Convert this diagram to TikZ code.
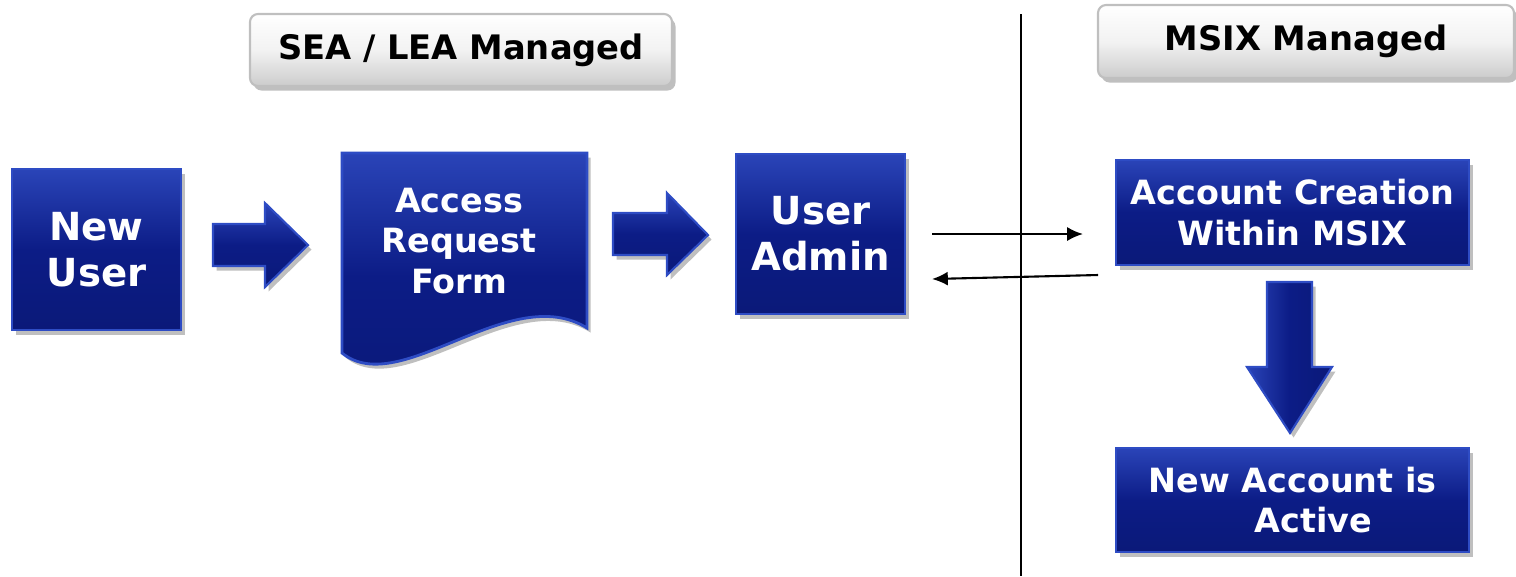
\documentclass[tikz,border=0pt]{standalone}
\usepackage{fontspec}
\setmainfont{DejaVu Sans}
\usetikzlibrary{shadows,arrows.meta,calc}
\definecolor{navy}{HTML}{0C1C86}
\definecolor{navylight}{HTML}{2A44B8}
\definecolor{bevel}{HTML}{2E4CC4}
\begin{document}
\begin{tikzpicture}[x=1cm,y=-1cm,
  shad/.style={drop shadow={shadow xshift=0.035cm,shadow yshift=-0.045cm,opacity=0.25,fill=black}},
  bluebox/.style={draw=bevel,line width=0.8pt,top color=navylight,bottom color=navy!90!black,middle color=navy,
     shad,inner sep=0pt,align=center,text=white},
  small/.style={font=\bfseries\fontsize{9.5}{11.4}\selectfont},
  big/.style={font=\bfseries\fontsize{11}{13}\selectfont},
  header/.style={draw=gray!50,line width=0.6pt,rounded corners=0.08cm,top color=white,bottom color=gray!40,
     middle color=gray!10,shad,inner sep=0pt,font=\bfseries\fontsize{9.6}{11.5}\selectfont,text=black},
  blockarrow/.style={draw=bevel,line width=0.6pt,top color=navylight,bottom color=navy!90!black,middle color=navy,shad},
  thin/.style={line width=0.6pt,-{Latex[length=4.5pt,width=4pt]}}]
\useasboundingbox (0,0) rectangle (15.16,5.76);
% headers
\node[header,minimum width=4.22cm,minimum height=0.72cm] (h1) at (4.61,0.50) {SEA / LEA Managed};
\node[header,minimum width=4.16cm,minimum height=0.73cm] (h2) at (13.06,0.415) {MSIX Managed};
% divider
\draw[line width=0.6pt] (10.21,0.14) -- (10.21,5.76);
% boxes
\node[bluebox,big,minimum width=1.69cm,minimum height=1.61cm] (nu) at (0.965,2.495) {New\\User};
\node[bluebox,big,minimum width=1.69cm,minimum height=1.60cm] (ua) at (8.205,2.34) {User\\Admin};
\node[bluebox,small,minimum width=3.53cm,minimum height=1.05cm] (ac) at (12.925,2.125) {Account Creation\\Within MSIX};
\node[bluebox,small,minimum width=3.53cm,minimum height=1.04cm] (na) at (12.925,5.00) {New Account is\\\hspace*{0.42cm}Active};
% document shape
\path[draw=bevel,line width=0.8pt,top color=navylight,bottom color=navy!90!black,middle color=navy,shad]
  (3.42,1.53) -- (5.87,1.53) -- (5.87,3.28)
  .. controls (5.10,2.80) and (4.00,4.00) .. (3.42,3.53) -- cycle;
\node[small,text=white,align=center] (arf) at (4.59,2.41) {Access\\Request\\Form};
% block arrows
\path[blockarrow] (2.13,2.24) -- (2.65,2.24) -- (2.65,2.03) -- (3.08,2.45) -- (2.65,2.87) -- (2.65,2.66) -- (2.13,2.66) -- cycle;
\path[blockarrow] (6.13,2.13) -- (6.67,2.13) -- (6.67,1.93) -- (7.08,2.35) -- (6.67,2.75) -- (6.67,2.55) -- (6.13,2.55) -- cycle;
\path[draw=bevel,line width=0.6pt,left color=navylight,right color=navy!90!black,middle color=navy,shad]
  (12.67,2.82) -- (13.12,2.82) -- (13.12,3.67) -- (13.32,3.67) -- (12.90,4.33) -- (12.47,3.67) -- (12.67,3.67) -- cycle;
% thin connectors
\coordinate (a1) at (9.32,2.34);
\coordinate (a2) at (10.83,2.34);
\coordinate (b1) at (10.98,2.75);
\coordinate (b2) at (9.32,2.79);
\draw[thin] (a1) -- (a2);
\draw[thin] (b1) -- (b2);
\end{tikzpicture}
\end{document}
